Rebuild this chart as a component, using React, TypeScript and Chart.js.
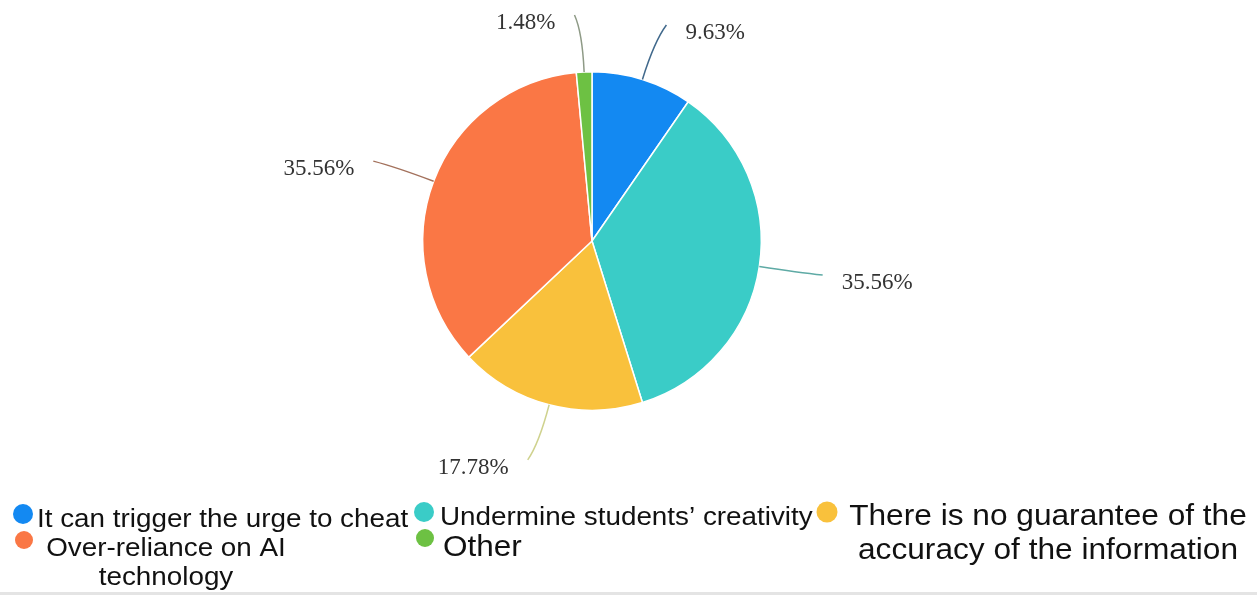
import React, { useEffect, useRef } from "react";
import { Chart, registerables } from "chart.js";

Chart.register(...registerables);

const categories = [
  "It can trigger the urge to cheat",
  "Undermine students’ creativity",
  "There is no guarantee of the accuracy of the information",
  "Over-reliance on AI technology",
  "Other",
];
const values = [9.63, 35.56, 17.78, 35.56, 1.48];
const percentLabels = ["9.63%", "35.56%", "17.78%", "35.56%", "1.48%"];
const legendLines = [
  ["It can trigger the urge to cheat"],
  ["Undermine students’ creativity"],
  ["There is no guarantee of the", "accuracy of the information"],
  ["Over-reliance on AI", "technology"],
  ["Other"],
];
const colors = ["#1389F2", "#3ACCC7", "#F9C13C", "#FA7745", "#6DC143"];
const leaderColors = ["#41698c", "#5eaaa5", "#cfd28e", "#a3715c", "#8e9a86"];

// legend layout (style only)
const legendLayout = [
  { dot: [23, 514, 10], size: 26, sx: 1.07, align: "left", x: 37, baselines: [527] },
  { dot: [424, 512, 10], size: 26, sx: 1.07, align: "left", x: 440, baselines: [525] },
  { dot: [827, 512, 10.5], size: 30, sx: 1.055, align: "center", x: 1048, baselines: [525, 559] },
  { dot: [24, 540, 9], size: 26, sx: 1.07, align: "center", x: 166, baselines: [556, 585] },
  { dot: [425, 538, 9], size: 30, sx: 1.05, align: "left", x: 443, baselines: [556] },
];

const outLabelPlugin = {
  id: "outLabels",
  beforeDraw(chart: any) {
    const ctx = chart.ctx;
    ctx.save();
    ctx.fillStyle = "#ffffff";
    ctx.fillRect(0, 0, chart.width, chart.height);
    ctx.fillStyle = "#e4e4e4";
    ctx.fillRect(0, chart.height - 3, chart.width, 3);
    ctx.restore();
  },
  afterDatasetsDraw(chart: any) {
    const ctx = chart.ctx;
    const meta = chart.getDatasetMeta(0);
    ctx.save();
    meta.data.forEach((arc: any, i: number) => {
      const p = arc.getProps(["x", "y", "startAngle", "endAngle", "outerRadius"], true);
      const mid = (p.startAngle + p.endAngle) / 2;
      const r = p.outerRadius;
      const cos = Math.cos(mid);
      const sin = Math.sin(mid);
      const dir = cos >= 0 ? 1 : -1;
      const sx = p.x + cos * r;
      const sy = p.y + sin * r;
      const ex = p.x + cos * (r + 57) + dir * 7;
      const ey = p.y + sin * (r + 57);
      const cx = p.x + cos * (r + 40);
      const cy = p.y + sin * (r + 40);
      ctx.beginPath();
      ctx.moveTo(sx, sy);
      ctx.quadraticCurveTo(cx, cy, ex, ey);
      ctx.strokeStyle = leaderColors[i];
      ctx.lineWidth = 1.5;
      ctx.stroke();
      ctx.font = "23px 'Liberation Serif'";
      ctx.fillStyle = "#333333";
      ctx.textBaseline = "middle";
      ctx.textAlign = dir > 0 ? "left" : "right";
      ctx.fillText(percentLabels[i], ex + dir * 19, ey + 8);
    });
    ctx.restore();
  },
  afterDraw(chart: any) {
    const ctx = chart.ctx;
    ctx.save();
    legendLayout.forEach((l, i) => {
      ctx.beginPath();
      ctx.arc(l.dot[0], l.dot[1], l.dot[2], 0, Math.PI * 2);
      ctx.fillStyle = colors[i];
      ctx.fill();
      ctx.fillStyle = "#111111";
      ctx.font = `${l.size}px 'Liberation Sans'`;
      ctx.textBaseline = "alphabetic";
      ctx.textAlign = l.align as CanvasTextAlign;
      legendLines[i].forEach((line, j) => {
        ctx.save();
        ctx.translate(l.x, l.baselines[j]);
        ctx.scale(l.sx, 1);
        ctx.fillText(line, 0, 0);
        ctx.restore();
      });
    });
    ctx.restore();
  },
};

export default function App() {
  const ref = useRef<HTMLCanvasElement | null>(null);
  useEffect(() => {
    document.body.style.margin = "0";
    if (!ref.current) return;
    const chart = new Chart(ref.current, {
      type: "pie",
      data: {
        labels: categories,
        datasets: [
          {
            data: values,
            backgroundColor: colors,
            borderColor: "#ffffff",
            borderWidth: 1.5,
          },
        ],
      },
      options: {
        responsive: false,
        animation: false,
        layout: { padding: { left: 422, right: 495, top: 71, bottom: 184 } },
        plugins: {
          legend: { display: false },
          tooltip: { enabled: false },
        },
      },
      plugins: [outLabelPlugin],
    });
    return () => chart.destroy();
  }, []);
  return (
    <div style={{ position: "relative", width: 1257, height: 595 }}>
      <canvas ref={ref} width={1257} height={595} style={{ display: "block" }} />
    </div>
  );
}
